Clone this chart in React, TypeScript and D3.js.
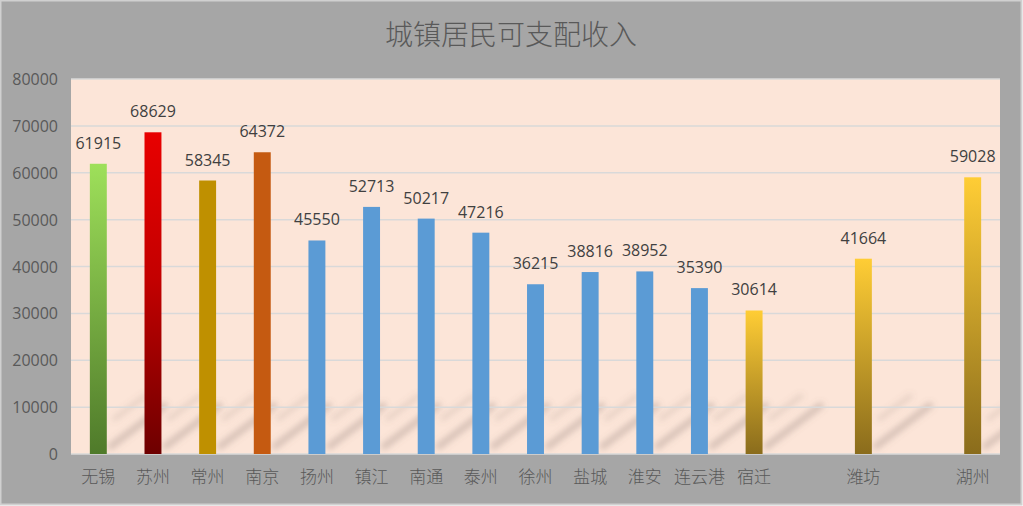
import React from "react";
import * as d3 from "d3";

const categories = ["无锡", "苏州", "常州", "南京", "扬州", "镇江", "南通", "泰州", "徐州", "盐城", "淮安", "连云港", "宿迁", "", "潍坊", "", "湖州"];
const values: (number | null)[] = [61915, 68629, 58345, 64372, 45550, 52713, 50217, 47216, 36215, 38816, 38952, 35390, 30614, null, 41664, null, 59028];
const fills = ["url(#gGreen)", "url(#gRed)", "#bf9000", "#c55a11", "#5b9bd5", "#5b9bd5", "#5b9bd5", "#5b9bd5", "#5b9bd5", "#5b9bd5", "#5b9bd5", "#5b9bd5", "url(#gGold)", "none", "url(#gGold)", "none", "url(#gGold)"];
const yTicks = [0, 10000, 20000, 30000, 40000, 50000, 60000, 70000, 80000];
const title = "城镇居民可支配收入";

export default function App() {
  const W = 1023, H = 506;
  const left = 71, right = 1000, top = 79, bottom = 454;
  const x = d3.scaleBand<number>().domain(categories.map((_, i) => i)).range([left, right]).paddingInner(0.69).paddingOuter(0.345);
  const y = d3.scaleLinear().domain([0, 80000]).range([bottom, top]);
  return (
    <svg width={W} height={H} style={{ position: "absolute", left: 0, top: 0 }}>
      <defs>
        <linearGradient id="gGreen" x1="0" y1="0" x2="0" y2="1">
          <stop offset="0" stopColor="#9ee05a" />
          <stop offset="1" stopColor="#4f7a2a" />
        </linearGradient>
        <linearGradient id="gRed" x1="0" y1="0" x2="0" y2="1">
          <stop offset="0" stopColor="#e80000" />
          <stop offset="0.45" stopColor="#c40000" />
          <stop offset="1" stopColor="#6e0000" />
        </linearGradient>
        <linearGradient id="gGold" x1="0" y1="0" x2="0" y2="1">
          <stop offset="0" stopColor="#ffcd35" />
          <stop offset="1" stopColor="#8a6c1c" />
        </linearGradient>
        <filter id="blur" x="-30%" y="-60%" width="160%" height="220%">
          <feGaussianBlur stdDeviation="3" />
        </filter>
        <clipPath id="plotClip">
          <rect x={left} y={top} width={right - left} height={bottom - top} />
        </clipPath>
      </defs>
      <rect x={0.5} y={0.5} width={W - 2} height={H - 2} fill="#a6a6a6" stroke="#d0d0d0" strokeWidth={2} />
      <text x={511} y={45} textAnchor="middle" fontSize={28} fill="#595959" fontFamily="'Noto Sans CJK SC', sans-serif" fontWeight={300}>{title}</text>
      <rect x={left} y={top} width={right - left} height={bottom - top} fill="#fce5d8" />
      <g clipPath="url(#plotClip)">
        {values.map((v, i) => {
          if (v == null) return null;
          const bx = (x(i) as number) + x.bandwidth();
          return (
            <g key={i}>
              <line x1={bx + 2} y1={448} x2={bx + 60} y2={404} stroke="#7d6e66" strokeOpacity={0.32} strokeWidth={6} filter="url(#blur)" />
              <line x1={bx + 6} y1={420} x2={bx + 40} y2={395} stroke="#7d6e66" strokeOpacity={0.18} strokeWidth={5} filter="url(#blur)" />
            </g>
          );
        })}
      </g>
      {yTicks.map((t) => (
        <g key={t}>
          {t > 0 && <line x1={left} x2={right} y1={y(t)} y2={y(t)} stroke="#d9d9d9" strokeWidth={1.5} />}
          <text x={58} y={y(t) + 6} textAnchor="end" fontSize={16} fill="#595959" fontFamily="'Open Sans', sans-serif">{t}</text>
        </g>
      ))}
      <line x1={left} x2={right} y1={bottom} y2={bottom} stroke="#d9d9d9" strokeWidth={1.5} />
      {values.map((v, i) => v == null ? null : (
        <g key={i}>
          <rect x={x(i)} y={y(v)} width={x.bandwidth()} height={bottom - y(v)} fill={fills[i]} />
          <text x={(x(i) as number) + x.bandwidth() / 2} y={y(v) - 15} textAnchor="middle" fontSize={16} fill="#404040" fontFamily="'Open Sans', sans-serif">{v}</text>
        </g>
      ))}
      {categories.map((c, i) => c ? (
        <text key={i} x={(x(i) as number) + x.bandwidth() / 2} y={483} textAnchor="middle" fontSize={17} fill="#595959" fontFamily="'Noto Sans CJK SC', sans-serif" fontWeight={300}>{c}</text>
      ) : null)}
    </svg>
  );
}
